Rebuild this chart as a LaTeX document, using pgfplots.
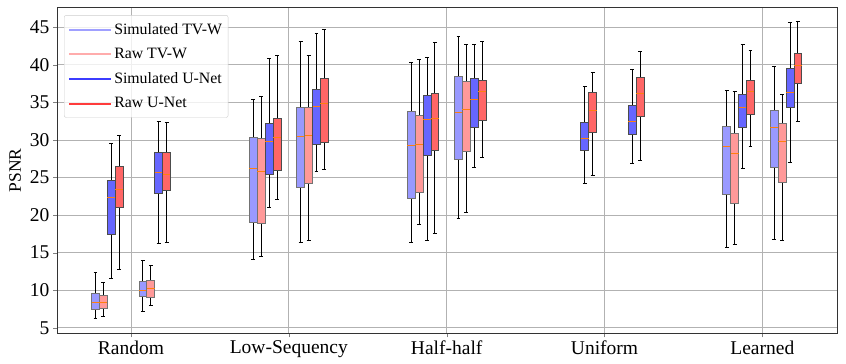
\documentclass[border=0pt]{standalone}
\usepackage{fontspec}
\setmainfont{Liberation Serif}
\usepackage{graphicx}
\usepackage{pgfplots}
\pgfplotsset{compat=1.18}

\definecolor{simtv}{RGB}{153,153,255}
\definecolor{rawtv}{RGB}{255,153,153}
\definecolor{simun}{RGB}{102,102,255}
\definecolor{rawun}{RGB}{255,102,102}
\definecolor{legsimtv}{RGB}{160,160,255}
\definecolor{legrawtv}{RGB}{255,172,172}
\definecolor{legsimun}{RGB}{60,60,255}
\definecolor{legrawun}{RGB}{255,60,60}
\definecolor{medorange}{RGB}{255,127,14}

\pgfplotsset{
  simtvbox/.style={fill=simtv, draw=black!55, line width=0.8pt},
  rawtvbox/.style={fill=rawtv, draw=black!55, line width=0.8pt},
  simunbox/.style={fill=simun, draw=black!70, line width=0.8pt},
  rawunbox/.style={fill=rawun, draw=black!70, line width=0.8pt},
  whisk/.style={black, line width=0.8pt, unbounded coords=jump, mark=none},
  med/.style={medorange, line width=1pt, mark=none},
}

% box: style, position, lower whisker, Q1, median, Q3, upper whisker
% box width 0.05, caps half as wide
\newcommand{\bx}[7]{%
  \pgfmathsetmacro{\xl}{#2-0.025}\pgfmathsetmacro{\xr}{#2+0.025}%
  \pgfmathsetmacro{\capl}{#2-0.0125}\pgfmathsetmacro{\capr}{#2+0.0125}%
  \edef\doplot{%
    \noexpand\addplot[whisk] coordinates {(#2,#6) (#2,#7) (#2,nan) (\capl,#7) (\capr,#7)
      (#2,nan) (#2,#4) (#2,#3) (#2,nan) (\capl,#3) (\capr,#3)};
    \noexpand\addplot[#1] coordinates {(\xl,#4) (\xr,#4) (\xr,#6) (\xl,#6)} --cycle;
    \noexpand\addplot[med] coordinates {(\xl,#5) (\xr,#5)};}%
  \doplot}

\begin{document}
\begin{tikzpicture}
\begin{axis}[
  name=ax,
  scale only axis, width=780pt, height=326pt,
  xmin=-0.469, xmax=4.475, ymin=4.25, ymax=47.66,
  xtick={0,1,2,3,4},
  xticklabels={Random, Low-Sequency, Half-half, Uniform, Learned},
  ytick={5,10,...,45},
  xtick pos=lower, ytick pos=left, tick align=outside,
  major tick length=4pt,
  /pgf/number format/assume math mode=true,
  tick label style={font=\fontsize{19.5}{20}\selectfont},
  ylabel={\scalebox{1.75}{\fontsize{10}{12}\selectfont PSNR}},
  ylabel style={yshift=2pt},
  xmajorgrids, ymajorgrids, grid style={black!30, line width=0.8pt},
  axis line style={black!80, line width=0.8pt},
  legend image code/.code={\draw[#1] (0pt,0pt) -- (34pt,0pt); \path (0pt,0pt) -- (42pt,0pt);},
  legend style={at={(axis description cs:0.009,0.976)}, anchor=north west,
    font=\fontsize{15.8}{16}\selectfont, draw=black!20, rounded corners=2pt,
    fill=white, fill opacity=0.8, text opacity=1, row sep=8.5pt,
    inner xsep=4pt, inner ysep=6pt},
  legend cell align=left,
]
\addlegendimage{legsimtv, line width=2pt}\addlegendentry{Simulated TV-W}
\addlegendimage{legrawtv, line width=2pt}\addlegendentry{Raw TV-W}
\addlegendimage{legsimun, line width=2pt}\addlegendentry{Simulated U-Net}
\addlegendimage{legrawun, line width=2pt}\addlegendentry{Raw U-Net}

% Random
\bx{simtvbox}{-0.225}{6.25}{7.45}{8.38}{9.58}{12.33}
\bx{rawtvbox}{-0.175}{6.56}{7.63}{8.38}{9.31}{11.05}
\bx{simunbox}{-0.125}{11.58}{17.44}{22.32}{24.58}{29.51}
\bx{rawunbox}{-0.075}{12.78}{21.03}{23.43}{26.49}{30.57}
\bx{simtvbox}{0.075}{7.18}{9.23}{9.94}{11.13}{13.97}
\bx{rawtvbox}{0.125}{7.98}{9.05}{10.25}{11.27}{13.26}
\bx{simunbox}{0.175}{16.19}{22.90}{25.69}{28.31}{32.44}
\bx{rawunbox}{0.225}{16.37}{23.25}{25.43}{28.31}{32.31}
% Low-Sequency
\bx{simtvbox}{0.775}{14.11}{19.03}{26.23}{30.35}{35.41}
\bx{rawtvbox}{0.825}{14.51}{18.90}{25.83}{30.22}{35.81}
\bx{simunbox}{0.875}{21.03}{25.47}{29.82}{32.22}{40.87}
\bx{rawunbox}{0.925}{22.10}{25.96}{30.35}{32.88}{41.27}
\bx{simtvbox}{1.075}{16.37}{23.70}{30.44}{34.30}{43.14}
\bx{rawtvbox}{1.125}{16.64}{24.23}{30.57}{34.30}{41.27}
\bx{simunbox}{1.175}{25.83}{29.42}{34.48}{36.74}{44.20}
\bx{rawunbox}{1.225}{26.09}{29.69}{34.84}{38.16}{44.73}
% Half-half
\bx{simtvbox}{1.775}{16.37}{22.23}{29.29}{33.81}{40.34}
\bx{rawtvbox}{1.825}{18.77}{23.03}{29.42}{33.24}{40.74}
\bx{simunbox}{1.875}{16.64}{27.96}{32.75}{35.95}{41.01}
\bx{rawunbox}{1.925}{17.57}{28.62}{32.88}{36.21}{43.00}
\bx{simtvbox}{2.075}{19.57}{27.42}{33.68}{38.48}{43.80}
\bx{rawtvbox}{2.125}{20.37}{28.49}{34.08}{37.81}{42.74}
\bx{simunbox}{2.175}{26.36}{31.68}{35.41}{38.21}{42.74}
\bx{rawunbox}{2.225}{27.69}{32.62}{36.48}{37.94}{43.14}
% Uniform
\bx{simunbox}{2.875}{24.23}{28.62}{30.22}{32.35}{37.14}
\bx{rawunbox}{2.925}{25.29}{31.02}{33.95}{36.34}{39.01}
\bx{simunbox}{3.175}{26.89}{30.75}{32.48}{34.61}{39.41}
\bx{rawunbox}{3.225}{27.29}{33.15}{36.21}{38.34}{41.76}
% Learned
\bx{simtvbox}{3.775}{15.71}{22.76}{29.15}{31.82}{36.61}
\bx{rawtvbox}{3.825}{16.11}{21.61}{28.22}{30.89}{36.48}
\bx{simunbox}{3.875}{26.23}{31.68}{34.35}{36.08}{42.74}
\bx{rawunbox}{3.925}{29.15}{33.42}{36.48}{37.94}{41.94}
\bx{simtvbox}{4.075}{16.77}{26.36}{31.68}{33.95}{39.81}
\bx{rawtvbox}{4.125}{16.64}{24.36}{29.82}{32.22}{36.08}
\bx{simunbox}{4.175}{27.02}{34.35}{36.34}{39.54}{45.67}
\bx{rawunbox}{4.225}{32.48}{37.54}{39.94}{41.54}{45.80}
\end{axis}
\pgfresetboundingbox
\path ([shift={(-57pt,-30pt)}]ax.south west) rectangle ([shift={(8.7pt,7.3pt)}]ax.north east);
\end{tikzpicture}
\end{document}
